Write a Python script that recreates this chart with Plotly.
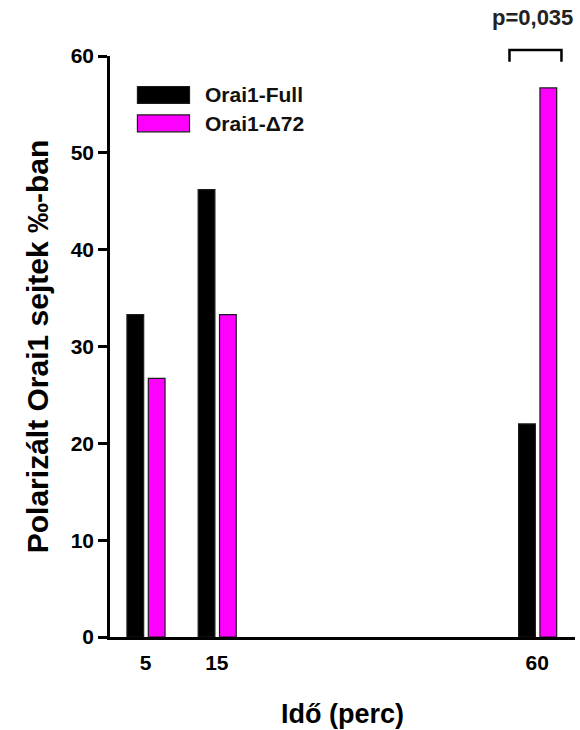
import plotly.graph_objects as go

# Time points (minutes) and share of cells with polarized Orai1 (%)
times = [5, 15, 60]
full_vals = [33.3, 46.2, 22.0]
delta_vals = [26.7, 33.3, 56.7]
series_names = ["Orai1-Full", "Orai1-\u039472"]
series_colors = ["#000000", "#ff00ff"]
y_ticks = [0, 10, 20, 30, 40, 50, 60]
p_label = "p=0,035"

FONT = "Liberation Sans, Arial, sans-serif"
BAR_W = 2.35

fig = go.Figure()
for vals, name, color, off in [
    (full_vals, series_names[0], series_colors[0], -2.62),
    (delta_vals, series_names[1], series_colors[1], 0.38),
]:
    fig.add_trace(go.Bar(
        x=times, y=vals, name=name, width=BAR_W, offset=off,
        marker=dict(color=color, line=dict(color="#1a1a1a", width=1.2)),
        showlegend=False,
    ))

# Hand-drawn legend boxes with labels
legend_y = [0.933, 0.884]
for name, color, yc in zip(series_names, series_colors, legend_y):
    fig.add_shape(type="rect", xref="paper", yref="paper",
                  x0=0.059, x1=0.171, y0=yc - 0.0145, y1=yc + 0.0145,
                  fillcolor=color, line=dict(color="#1a1a1a", width=1.2))
    fig.add_annotation(xref="paper", yref="paper", x=0.199, y=yc,
                       text=f"<b>{name}</b>", showarrow=False, xanchor="left", yanchor="middle",
                       font=dict(family=FONT, size=21, color="#111"))

# Significance bracket above the 60-minute group
g = times[2]
fig.add_shape(type="path", xref="x", yref="paper",
              path=f"M {g-3.9},0.990 L {g-3.9},1.0103 L {g+3.4},1.0103 L {g+3.4},0.990",
              line=dict(color="#000", width=2.5))
fig.add_annotation(xref="x", yref="paper", x=g - 0.7, y=1.066, text=f"<b>{p_label}</b>",
                   showarrow=False, xanchor="center", yanchor="middle",
                   font=dict(family=FONT, size=22, color="#222"))

fig.update_layout(
    width=580, height=730,
    margin=dict(l=110, r=5, t=56, b=91),
    plot_bgcolor="white", paper_bgcolor="white",
    barmode="overlay",
    font=dict(family=FONT, color="#000"),
    xaxis=dict(
        range=[0, 65.3], tickvals=times, ticktext=[f"<b>{t}</b>" for t in times],
        showline=True, linecolor="#000", linewidth=2.5, ticks="",
        showgrid=False, zeroline=False, tickfont=dict(size=21),
        ticklabelstandoff=5,
        title=dict(text="<b>Idő (perc)</b>", font=dict(size=27), standoff=32),
    ),
    yaxis=dict(
        range=[0, 60], tickvals=y_ticks, ticktext=[f"<b>{t}</b>" for t in y_ticks],
        showline=True, linecolor="#000", linewidth=2.5, ticks="outside",
        ticklen=9, tickwidth=2.5, tickcolor="#000",
        showgrid=False, zeroline=False, tickfont=dict(size=21),
        title=dict(text="<b>Polarizált Orai1 sejtek \u2030-ban</b>", font=dict(size=30), standoff=14),
    ),
)

fig.write_html("out.html")
